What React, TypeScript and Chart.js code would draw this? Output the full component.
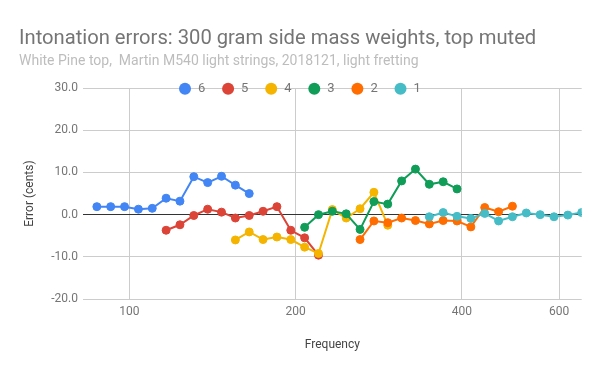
import React, { useEffect, useRef } from "react";
import { Chart, registerables } from "chart.js";

Chart.register(...registerables);

const seriesNames = ["6", "5", "4", "3", "2", "1"];
const seriesColors = ["#4285F4", "#DB4437", "#F4B400", "#0F9D58", "#FF6D01", "#46BDC6"];

const freqs6 = [87.31, 92.5, 98.0, 103.83, 110.0, 116.54, 123.47, 130.81, 138.59, 146.83, 155.56, 164.81];
const err6 = [1.9, 1.9, 1.9, 1.3, 1.5, 3.9, 3.2, 9.0, 7.6, 9.1, 7.0, 5.0];

const freqs5 = [116.54, 123.47, 130.81, 138.59, 146.83, 155.56, 164.81, 174.61, 185.0, 196.0, 207.65, 220.0];
const err5 = [-3.7, -2.4, -0.2, 1.3, 0.6, -0.8, -0.2, 0.8, 1.9, -3.7, -5.5, -9.6];

const freqs4 = [155.56, 164.81, 174.61, 185.0, 196.0, 207.65, 220.0, 233.08, 246.94, 261.63, 277.18, 293.66];
const err4 = [-6.0, -4.1, -5.9, -5.3, -5.9, -7.7, -9.2, 1.2, -0.8, 1.4, 5.3, -2.5];

const freqs3 = [207.65, 220.0, 233.08, 246.94, 261.63, 277.18, 293.66, 311.13, 329.63, 349.23, 369.99, 392.0];
const err3 = [-3.0, 0.0, 0.8, 0.2, -3.5, 3.1, 2.5, 8.0, 10.8, 7.2, 7.8, 6.1];

const freqs2 = [261.63, 277.18, 293.66, 311.13, 329.63, 349.23, 369.99, 392.0, 415.3, 440.0, 466.16, 493.88];
const err2 = [-5.9, -1.5, -1.9, -0.8, -1.4, -2.2, -1.4, -1.5, -2.9, 1.7, 0.7, 2.0];

const freqs1 = [349.23, 369.99, 392.0, 415.3, 440.0, 466.16, 493.88, 523.25, 554.37, 587.33, 622.25, 659.26];
const err1 = [-0.5, 0.5, -0.4, -0.9, 0.3, -1.5, -0.5, 0.4, 0.0, -0.5, -0.1, 0.5];

const xTicks = [100, 200, 400, 600];
const yTicks = [-20, -10, 0, 10, 20, 30];
const xMin = 82.41;
const xMax = 659.26;

const allFreqs = [freqs6, freqs5, freqs4, freqs3, freqs2, freqs1];
const allErrs = [err6, err5, err4, err3, err2, err1];

const FONT = "Roboto, 'Noto Sans', Arial, sans-serif";

const legendPlugin = {
  id: "insideLegend",
  afterDraw(chart: any) {
    const { ctx, chartArea } = chart;
    const cy = chartArea.top + 0.5;
    ctx.save();
    ctx.font = `13px ${FONT}`;
    ctx.textBaseline = "middle";
    ctx.textAlign = "left";
    let cx = 185;
    chart.data.datasets.forEach((ds: any) => {
      ctx.beginPath();
      ctx.arc(cx, cy, 6, 0, Math.PI * 2);
      ctx.fillStyle = ds.borderColor;
      ctx.fill();
      ctx.fillStyle = "#757575";
      ctx.fillText(ds.label, cx + 13, cy + 0.5);
      cx += 43.1;
    });
    ctx.restore();
  },
};

export default function App() {
  const ref = useRef<HTMLCanvasElement | null>(null);
  useEffect(() => {
    document.body.style.margin = "0";
    if (!ref.current) return;
    const datasets = seriesNames.map((name, i) => ({
      label: name,
      data: allFreqs[i].map((f, j) => ({ x: f, y: allErrs[i][j] })),
      borderColor: seriesColors[i],
      backgroundColor: seriesColors[i],
      pointBackgroundColor: seriesColors[i],
      pointBorderColor: seriesColors[i],
      pointRadius: 4,
      pointBorderWidth: 1,
      borderWidth: 2,
      tension: 0,
      order: 6 - i,
    }));
    const chart = new Chart(ref.current, {
      type: "line",
      data: { datasets },
      plugins: [legendPlugin],
      options: {
        animation: false,
        responsive: false,
        layout: { padding: { left: 19, right: 18.3, top: 0, bottom: 0 } },
        plugins: {
          legend: { display: false },
          tooltip: { enabled: false },
          title: {
            display: true,
            text: "Intonation errors: 300 gram side mass weights, top muted",
            align: "start",
            color: "#757575",
            font: { family: FONT, size: 20.2, weight: "normal" },
            padding: { top: 26.5, bottom: 0 },
          },
          subtitle: {
            display: true,
            text: "White Pine top,  Martin M540 light strings, 2018121, light fretting",
            align: "start",
            color: "#BDBDBD",
            font: { family: FONT, size: 14, weight: "normal" },
            padding: { top: 2.4, bottom: 18.2 },
          },
        },
        scales: {
          x: {
            type: "logarithmic",
            min: xMin,
            max: xMax,
            afterBuildTicks: (scale: any) => {
              scale.ticks = xTicks.map((v) => ({ value: v }));
            },
            afterFit: (scale: any) => {
              scale.height = 72;
            },
            ticks: {
              callback: (v: any) => String(v),
              color: "#757575",
              font: { family: FONT, size: 12 },
              padding: 6,
              maxRotation: 0,
              autoSkip: false,
            },
            grid: { color: "#CCCCCC", drawTicks: false },
            border: { display: false },
            title: {
              display: true,
              text: "Frequency",
              color: "#444444",
              font: { family: FONT, size: 12 },
              padding: { top: 0, bottom: 18.8 },
            },
          },
          y: {
            type: "linear",
            min: yTicks[0],
            max: yTicks[yTicks.length - 1],
            afterBuildTicks: (scale: any) => {
              scale.ticks = yTicks.map((v) => ({ value: v }));
            },
            afterFit: (scale: any) => {
              scale.width = 64;
            },
            ticks: {
              callback: (v: any) => Number(v).toFixed(1),
              color: "#757575",
              font: { family: FONT, size: 12 },
              padding: 5,
            },
            grid: {
              color: (c: any) => (c.tick && c.tick.value === 0 ? "#333333" : "#CCCCCC"),
              drawTicks: false,
            },
            border: { display: false },
            title: {
              display: true,
              text: "Error (cents)",
              color: "#444444",
              font: { family: FONT, size: 12 },
              padding: { top: 3.8, bottom: 0 },
            },
          },
        },
      } as any,
    });
    return () => chart.destroy();
  }, []);
  return (
    <div style={{ width: 600, height: 371 }}>
      <canvas ref={ref} width={600} height={371} style={{ display: "block" }} />
    </div>
  );
}
